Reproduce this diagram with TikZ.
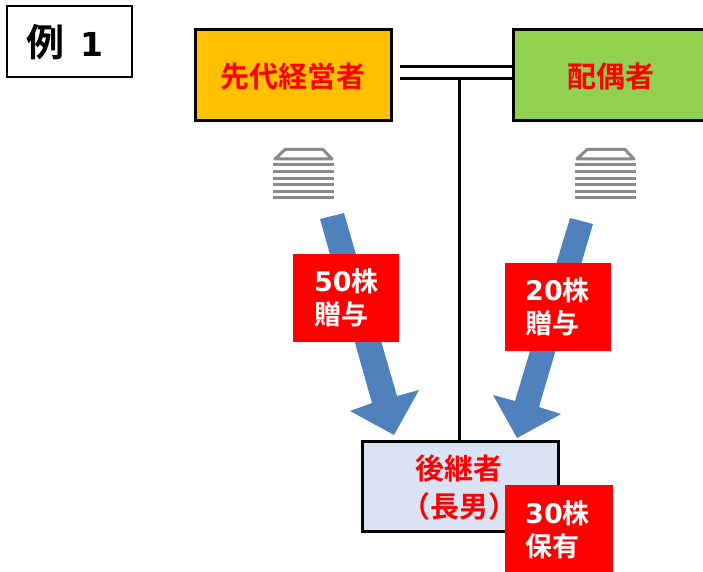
\documentclass[tikz,border=0pt]{standalone}
\usepackage{fontspec}
\setmainfont{DejaVu Sans}
\newfontfamily\cjk{Noto Sans CJK JP}[BoldFont={Noto Sans CJK JP Bold}]
\newfontfamily\latf{DejaVu Sans}[BoldFont={DejaVu Sans Bold}]
\definecolor{arrowblue}{HTML}{4F81BD}
\definecolor{orangebox}{HTML}{FFC000}
\definecolor{greenbox}{HTML}{92D050}
\definecolor{bluebox}{HTML}{DAE3F3}
\definecolor{icongray}{HTML}{8A8A8A}
\newcommand{\lat}[1]{{\latf\fontsize{27}{27}\selectfont\bfseries #1}}
\tikzset{
  x=1pt,y=-1pt,
  person/.style={draw=black,line width=3pt,outer sep=0pt,minimum width=196.5pt,minimum height=91pt,anchor=north west,inner sep=0pt},
  persontext/.style={font=\cjk\bfseries\fontsize{29}{38}\selectfont,text=red,align=center,inner sep=0pt},
  redtag/.style={fill=red,anchor=north west,inner sep=0pt,outer sep=0pt,minimum height=88pt},
  tagtext/.style={text=white,anchor=west,inner sep=0pt,align=left,font=\cjk\bfseries\fontsize{27}{33}\selectfont},
  wire/.style={draw=black,line width=3pt},
  bigarrow/.style={fill=arrowblue,draw=none},
  iconline/.style={draw=icongray,line width=3pt},
  icontop/.style={draw=icongray,line width=3pt,fill=white,line join=round},
}
\newcommand{\stackicon}[1]{%
  \begin{scope}[shift={(#1,0)}]
    \draw[icontop] (275,159) -- (285,149.5) -- (323,149.5) -- (332,159) -- cycle;
    \foreach \yy in {165,171.5,178,184.5,191,197}{\draw[iconline] (273,\yy) -- (334,\yy);}
  \end{scope}}
\begin{document}
\begin{tikzpicture}
\useasboundingbox (0,0) rectangle (703,572);
% title
\node[draw=black,line width=2pt,outer sep=0pt,minimum width=125.5pt,minimum height=71pt,anchor=north west,inner sep=0pt] (title) at (6.5,6.5) {};
\node[font=\cjk\bfseries\fontsize{38}{38}\selectfont] (titletext) at (64.5,42) {例\hspace{16pt}{\latf\bfseries\fontsize{33}{33}\selectfont 1}};
% persons
\node[person,fill=orangebox] (senior) at (195,30) {};
\node[persontext] (seniortext) at (293,77) {先代経営者};
\node[person,fill=greenbox,minimum width=200pt] (spouse) at (513,30) {};
\node[persontext] (spousetext) at (611,77) {配偶者};
\node[person,fill=bluebox,minimum width=196pt,minimum height=90pt] (heir) at (362,441) {};
\node[persontext] (heirtext) at (459,488) {後継者\\（長男）};
% marriage lines
\coordinate (upperstart) at (400,66.5);
\coordinate (lowerstart) at (400,79);
\coordinate (upperend) at (513,66.5);
\coordinate (lowerend) at (513,79);
\coordinate (drop) at (459.5,79);
\draw[wire] (upperstart) -- (upperend);
\draw[wire] (lowerstart) -- (lowerend);
\draw[wire] (drop) -- (drop |- heir.north);
% icons
\stackicon{0}
\stackicon{302}
% arrows
\fill[bigarrow] (320,219) -- (344,213) -- (397,396) -- (419,390) -- (394,435) -- (350,411) -- (372,403) -- cycle;
\fill[bigarrow] (570,218) -- (593,224) -- (539,407) -- (561,414) -- (517,438) -- (493,395) -- (515,401) -- cycle;
% tags
\node[redtag,minimum width=106pt] (tagA) at (293,254) {};
\node[tagtext] (tagAtext) at (314,298) {\lat{50}株\\贈与};
\node[redtag,minimum width=106pt] (tagB) at (505,263) {};
\node[tagtext] (tagBtext) at (525,307) {\lat{20}株\\贈与};
\node[redtag,minimum width=108pt,minimum height=87pt] (tagC) at (505,485) {};
\node[tagtext] (tagCtext) at (525,529.5) {\lat{30}株\\保有};
\end{tikzpicture}
\end{document}
